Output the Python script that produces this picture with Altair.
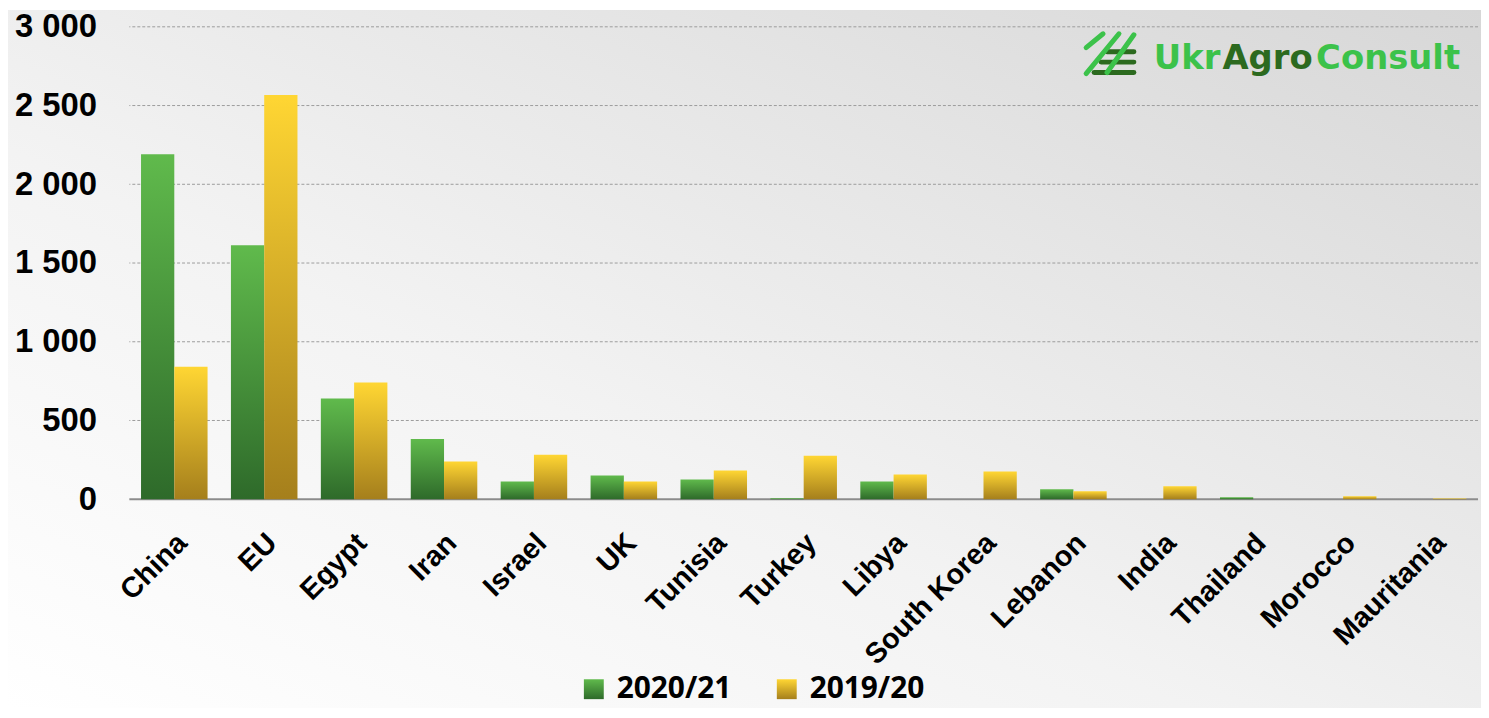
import altair as alt
import pandas as pd

# ---- data ----
countries = ["China", "EU", "Egypt", "Iran", "Israel", "UK", "Tunisia", "Turkey",
             "Libya", "South Korea", "Lebanon", "India", "Thailand", "Morocco", "Mauritania"]
series_names = ["2020/21", "2019/20"]
values_2020_21 = [2190, 1613, 640, 383, 113, 151, 126, 6, 113, 0, 63, 0, 12, 0, 0]
values_2019_20 = [841, 2567, 741, 239, 282, 113, 182, 276, 157, 176, 50, 82, 0, 19, 4]
y_ticks = [0, 500, 1000, 1500, 2000, 2500, 3000]
grid_values = [500, 1000, 1500, 2000, 2500, 3000]

rows = []
for c, a, b in zip(countries, values_2020_21, values_2019_20):
    rows.append({"country": c, "series": series_names[0], "value": a})
    rows.append({"country": c, "series": series_names[1], "value": b})
df = pd.DataFrame(rows)
grid_df = pd.DataFrame({"value": grid_values})
zero_df = pd.DataFrame({"value": [0]})

# ---- styling ----
W, H = 1356, 475
PAD = {"left": 122, "top": 17, "right": 3, "bottom": 210}
LABEL_FONT = "'Liberation Sans Narrow', 'Arial Narrow', 'Liberation Sans', sans-serif"
NUM_FONT = "'Liberation Sans', Arial, sans-serif"
LEGEND_FONT = "'Open Sans', 'Liberation Sans', sans-serif"

green_grad = ("{gradient: 'linear', x1: 0, y1: 0, x2: 0, y2: 1, stops: ["
              "{offset: 0, color: '#60BA4C'}, {offset: 1, color: '#2E6A2A'}]}")
yellow_grad = ("{gradient: 'linear', x1: 0, y1: 0, x2: 0, y2: 1, stops: ["
               "{offset: 0, color: '#FFD633'}, {offset: 1, color: '#A57F1C'}]}")

bg_gradient = alt.LinearGradient(
    gradient="linear", x1=0, y1=1, x2=1, y2=0,
    stops=[alt.GradientStop(offset=0, color="#FFFFFF"),
           alt.GradientStop(offset=0.4, color="#F3F3F3"),
           alt.GradientStop(offset=1, color="#D7D7D7")])

y_scale = alt.Scale(domain=[0, 3000], nice=False, zero=True)
y_axis = alt.Axis(title=None, values=y_ticks, grid=False, domain=False, ticks=False,
                  labelPadding=33, labelFontSize=33, labelFont=NUM_FONT,
                  labelFontWeight="bold", labelColor="#000000",
                  labelExpr="replace(format(datum.value, ','), ',', ' ')", zindex=1)

background = alt.Chart(zero_df).mark_rect(color=bg_gradient).encode(
    x=alt.value(-PAD["left"]), x2=alt.value(W + PAD["right"]),
    y=alt.value(-PAD["top"]), y2=alt.value(H + PAD["bottom"]))

grid = alt.Chart(grid_df).mark_rule(color="#9C9C9C", strokeWidth=1, strokeDash=[3, 2]).encode(
    y=alt.Y("value:Q", scale=y_scale, axis=y_axis))

zero_line = alt.Chart(zero_df).mark_rule(color="#8C8C8C", strokeWidth=2).encode(
    y=alt.Y("value:Q", scale=y_scale, axis=y_axis))

bars = alt.Chart(df).mark_bar().encode(
    x=alt.X("country:N", sort=countries,
            scale=alt.Scale(paddingInner=0.26, paddingOuter=0.13),
            axis=alt.Axis(title=None, labelAngle=-45, labelAlign="right", labelBaseline="top",
                          labelPadding=29, labelFontSize=29, labelFont=LABEL_FONT,
                          labelFontWeight="bold", labelColor="#000000", labelLimit=0,
                          labelOffset=-2, domain=False, ticks=False, zindex=1)),
    xOffset=alt.XOffset("series:N", sort=series_names,
                        scale=alt.Scale(paddingInner=0, paddingOuter=0)),
    y=alt.Y("value:Q", scale=y_scale, axis=y_axis),
    color=alt.Color("series:N", sort=series_names,
                    scale=alt.Scale(domain=series_names,
                                    range=[alt.ExprRef(expr=green_grad), alt.ExprRef(expr=yellow_grad)]),
                    legend=alt.Legend(title=None, orient="none", legendX=452, legendY=651,
                                      direction="horizontal", symbolType="square",
                                      symbolSize=400, symbolStrokeWidth=0,
                                      labelFontSize=30, labelFont=LEGEND_FONT,
                                      labelFontWeight="bold", labelColor="#000000",
                                      labelOffset=8, columnPadding=40, zindex=1)),
)

# ---- logo (decoration) ----
logo_h = [(983, 1010, 25), (977, 1010, 35.5), (970, 1010, 46)]
logo_d = [(962, 21, 979, 7), (962, 47, 995, 7), (983, 46, 1010, 8)]
logo_layers = []
for x1, x2, yy in logo_h:
    logo_layers.append(alt.Chart(zero_df).mark_rule(color="#2C6A1F", strokeWidth=5, strokeCap="round").encode(
        x=alt.value(x1), x2=alt.value(x2), y=alt.value(yy), y2=alt.value(yy)))
for x1, y1, x2, y2 in logo_d:
    logo_layers.append(alt.Chart(zero_df).mark_rule(color="#3CC24A", strokeWidth=5, strokeCap="round").encode(
        x=alt.value(x1), x2=alt.value(x2), y=alt.value(y1), y2=alt.value(y2)))
for word, xx, al, col in [("Ukr", 1097, "right", "#3CC24A"), ("Agro", 1099, "left", "#2C6A1F"),
                          ("Consult", 1338, "right", "#3CC24A")]:
    logo_layers.append(alt.Chart(zero_df).mark_text(
        text=word, align=al, baseline="alphabetic", font="DejaVu Sans", fontWeight="bold",
        fontSize=34, color=col).encode(x=alt.value(xx), y=alt.value(42)))

chart = alt.layer(background, grid, zero_line, bars, *logo_layers).properties(
    width=W, height=H,
    autosize=alt.AutoSizeParams(type="none"),
    padding=PAD,
).configure_view(strokeWidth=0).configure(background="#FFFFFF")

chart.save("out.html", embed_options={"renderer": "svg", "actions": False})
